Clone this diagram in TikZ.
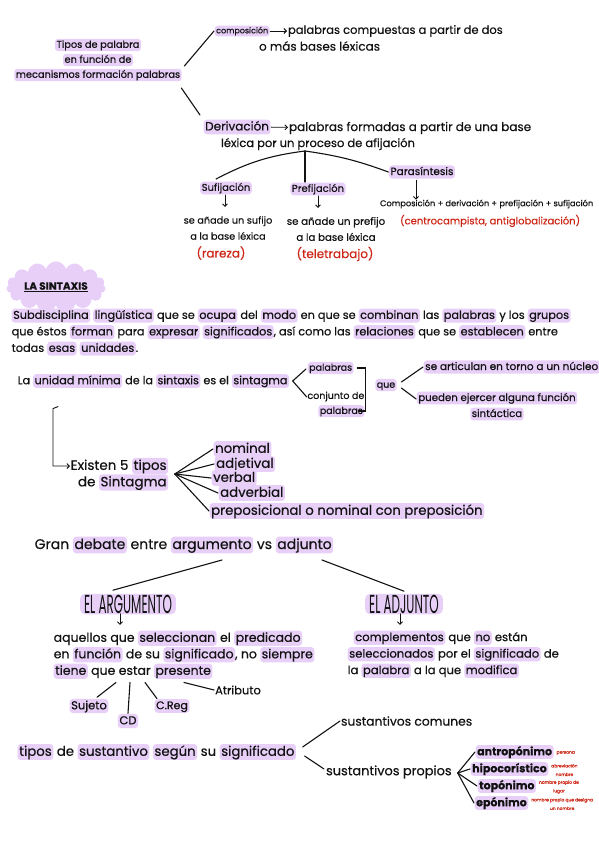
\documentclass[tikz,border=0pt]{standalone}
\usepackage{fontspec}
\setmainfont{Poppins}[FakeBold=0.5]
\newfontfamily\condfont[FakeStretch=0.46]{Poppins}
\usepackage{tikz}
\usetikzlibrary{calc,shapes.symbols,arrows.meta}
\definecolor{hl}{RGB}{232,207,248}
\definecolor{ink}{RGB}{18,18,18}
\definecolor{redink}{RGB}{205,38,22}
\newcommand{\hlword}[1]{\tikz[baseline]\node[anchor=base, fill=hl, rounded corners=3pt, inner xsep=1.5pt, inner ysep=1.2pt, text height=1.45ex, text depth=.4ex]{#1};}

\begin{document}
\begin{tikzpicture}[x=1pt, y=-1pt, line width=1.1pt, line cap=round, ink,
txt/.style={font=\fontsize{12}{15}\selectfont, inner sep=0.5pt},
sm/.style={font=\fontsize{8}{12}\selectfont, inner sep=0.5pt},
ex/.style={font=\fontsize{12}{14}\selectfont, text=redink, inner sep=0.5pt},
note/.style={font=\fontsize{4.4}{8.6}\selectfont, text=redink, align=center, inner sep=0.3pt},
head/.style={font=\condfont\fontsize{26}{28}\selectfont, fill=hl, rounded corners=5pt, inner xsep=4pt, inner ysep=1pt},
arr/.style={->, >={Straight Barb[length=2.5pt,width=5pt]}, line width=0.9pt}]
\useasboundingbox (0,0) rectangle (599,848);

% tipos de palabra
\node[txt, font=\fontsize{9.8}{15}\selectfont, align=center] (tipos) at (98,60) {\hlword{Tipos de palabra}\\ \hlword{en función de}\\ \hlword{mecanismos formación palabras}};
\node[sm, anchor=west] (comp) at (214,31) {\hlword{composición}};
\node[txt, font=\fontsize{11.5}{15}\selectfont, anchor=west] (compdef) at (287,31) {palabras compuestas a partir de dos};
\node[txt, anchor=west] (compdef2) at (258,46) {o más bases léxicas};
\draw[arr] (comp) -- (compdef);
\draw ($(tipos.east)+(2,6)$) -- (comp.west);
\node[txt, anchor=west] (deriv) at (203,127) {\hlword{Derivación}};
\node[txt, anchor=west] (derivdef) at (288,128) {palabras formadas a partir de una base};
\node[txt, font=\fontsize{11.5}{15}\selectfont, anchor=west] (derivdef2) at (220,144) {léxica por un proceso de afijación};
\draw[arr] (deriv) -- (derivdef);
\draw ($(tipos.east)+(-1,28)$) -- ($(deriv.north west)+(-3,-4)$);

% afijacion
\coordinate (afij) at (305,151);
\node[sm, font=\fontsize{10}{12}\selectfont] (sufij) at (226,188) {\hlword{Sufijación}};
\node[sm, font=\fontsize{10}{12}\selectfont] (prefij) at (318,189) {\hlword{Prefijación}};
\node[sm, font=\fontsize{10.5}{12}\selectfont] (paras) at (422,172) {\hlword{Parasíntesis}};
\draw (afij) to[bend right=10] ($(sufij.north)+(-10,-2)$);
\draw (afij) -- (afij |- prefij.north);
\draw (afij) to[bend left=6] (paras.west);
\node[txt, font=\fontsize{9.7}{16}\selectfont, align=center] (sufdef) at (228,228) {se añade un sufijo\\a la base léxica};
\node[ex] (sufex) at (221,253) {(rareza)};
\node[txt, font=\fontsize{10.2}{16}\selectfont, align=center] (prefdef) at (336,229) {se añade un prefijo\\a la base léxica};
\node[ex] (prefex) at (335,254) {(teletrabajo)};
\draw[arr] ($(sufij.south)+(-1,0)$) -- ++(0,12);
\draw[arr] ($(prefij.south)+(0,0)$) -- ++(0,12);
\node[sm, font=\fontsize{8.3}{10}\selectfont, anchor=west] (parasdef) at (379,204) {Composición + derivación + prefijación + sufijación};
\node[ex, font=\fontsize{10}{12}\selectfont, anchor=west] (parasex) at (399,221) {(centrocampista, antiglobalización)};
\draw[arr] ($(paras.south)+(-6,1)$) -- ($(parasdef.north west)+(37,1)$);

% la sintaxis
\node[cloud, cloud puffs=15, aspect=2.6, fill=hl, inner xsep=2pt, inner ysep=5pt, font=\bfseries\fontsize{10.5}{12}\selectfont] (sintaxis) at (56,287) {\underline{LA SINTAXIS}};
\node[txt, anchor=north west, align=left, font=\fontsize{11.3}{16.5}\selectfont] (defsint) at (11,308) {\hlword{Subdisciplina} \hlword{lingüística} que se \hlword{ocupa} del \hlword{modo} en que se \hlword{combinan} las \hlword{palabras} y los \hlword{grupos}\\ que éstos \hlword{forman} para \hlword{expresar} \hlword{significados}, así como las \hlword{relaciones} que se \hlword{establecen} entre\\ todas \hlword{esas} \hlword{unidades}.};

\node[txt, font=\fontsize{11.2}{15}\selectfont, anchor=west] (unidad) at (17,381) {La \hlword{unidad mínima} de la \hlword{sintaxis} es el \hlword{sintagma}};
\node[sm, font=\fontsize{9.5}{12}\selectfont, anchor=west] (pal) at (307,368) {\hlword{palabras}};
\node[sm, font=\fontsize{9.5}{15}\selectfont, align=right, anchor=north east] (conj) at (365,391) {conjunto de\\ \hlword{palabras}};
\draw ($(pal.west)+(-1,1)$) -- ($(unidad.east)+(3,0)$) -- ($(conj.north west)+(0,6)$);
\draw ($(pal.east)+(3,0)$) -| ($(pal.east)+(11,43)$) -- ++(-7,0);
\node[sm, font=\fontsize{9.5}{12}\selectfont] (que) at (386,385) {\hlword{que}};
\node[sm, font=\fontsize{10.5}{12}\selectfont, anchor=west] (art) at (423,367) {\hlword{se articulan en torno a un núcleo}};
\node[sm, font=\fontsize{10.2}{16}\selectfont, align=center, anchor=north] (pueden) at (497,391) {\hlword{pueden ejercer alguna función}\\ \hlword{sintáctica}};
\draw (art.west) -- ($(que.east)+(4,-3)$);
\draw ($(que.east)+(4,3)$) -- ($(pueden.north west)+(0,8)$);

% tipos de sintagma
\node[txt, font=\fontsize{13.5}{15}\selectfont, anchor=west] (existen) at (70,466) {Existen 5 \hlword{tipos}};
\node[txt, font=\fontsize{13.5}{15}\selectfont, anchor=north east] (desint) at ($(existen.south east)+(0,-1)$) {de \hlword{Sintagma}};
\draw[arr] ($(unidad.south west)+(41,18)$) -- ++(-5,2) |- (existen.west);
\coordinate (fan) at ($(existen.east)+(6,8)$);
\foreach \id/\x/\y/\lbl in {nom/213/449/nominal, adj/214/464/adjetival, verb/211/478/verbal, adv/218/493/adverbial, prep/209/511/preposicional o nominal con preposición} {
  \node[txt, font=\fontsize{13.3}{14}\selectfont, anchor=west] (\id) at (\x,\y) {\hlword{\lbl}};
  \draw (fan) -- (\id.west);
}

% argumento vs adjunto
\node[txt, anchor=west, font=\fontsize{14}{16}\selectfont] (debate) at (34,545) {Gran \hlword{debate} entre \hlword{argumento} vs \hlword{adjunto}};
\coordinate (argtop) at ($(debate.south west)+(188,6)$);
\coordinate (adjtop) at ($(debate.south west)+(288,6)$);
\node[head] (elarg) at (128,604) {EL ARGUMENTO};
\node[head] (eladj) at (404,604) {EL ADJUNTO};
\draw (argtop) -- ($(elarg.north)+(-15,-3)$);
\draw (adjtop) -- ($(eladj.north)+(0,-2)$);
\draw[arr] ($(elarg.south)+(-8,-1)$) -- ++(0,11);
\draw[arr] ($(eladj.south)+(-4,-1)$) -- ++(0,11);
\node[txt, anchor=north west, align=left, font=\fontsize{12.5}{16.5}\selectfont] (argdef) at (53,630) {aquellos que \hlword{seleccionan} el \hlword{predicado}\\ en \hlword{función} de su \hlword{significado}, no \hlword{siempre}\\ \hlword{tiene} que estar \hlword{presente}};
\node[txt, anchor=north west, align=left, font=\fontsize{11.6}{16.5}\selectfont] (adjdef) at (347,630) {\hspace{6pt}\hlword{complementos} que \hlword{no} están\\ \hlword{seleccionados} por el \hlword{significado} de\\ la \hlword{palabra} a la que \hlword{modifica}};
\node[sm, font=\fontsize{11.5}{12}\selectfont] (sujeto) at (89,706) {\hlword{Sujeto}};
\node[sm, font=\fontsize{11.5}{12}\selectfont] (cd) at (128,721) {\hlword{CD}};
\node[sm, font=\fontsize{11}{12}\selectfont] (creg) at (172,706) {\hlword{C.Reg}};
\node[sm, font=\fontsize{11.5}{12}\selectfont] (atrib) at (238,690) {Atributo};
\draw ($(argdef.south west)+(63,3)$) -- ($(sujeto.north)+(8,-1)$);
\draw ($(argdef.south west)+(77,3)$) -- (cd.north);
\draw ($(argdef.south west)+(92,3)$) -- ($(creg.north west)+(3,0)$);
\draw ($(argdef.south west)+(131,3)$) -- (atrib.west);

% tipos de sustantivo
\node[txt, anchor=west, font=\fontsize{13.3}{14}\selectfont] (sust) at (17,752) {\hlword{tipos} de \hlword{sustantivo} \hlword{según} su \hlword{significado}};
\node[txt, anchor=west, font=\fontsize{12.3}{14}\selectfont] (comunes) at (340,721) {sustantivos comunes};
\node[txt, anchor=west, font=\fontsize{12.9}{14}\selectfont] (propios) at (325,772) {sustantivos propios};
\draw ($(sust.east)+(6,-5)$) -- (comunes.west);
\draw ($(sust.east)+(8,4)$) -- ($(propios.west)+(-1,-3)$);
\coordinate (prop) at ($(propios.east)+(5,1)$);
\foreach \id/\x/\y/\lbl/\nt in {antrop/475/752/antropónimo/persona, hipo/470/769/hipocorístico/{abreviación\\nombre}, topo/477/786/topónimo/{nombre propio de\\lugar}, epo/474/803/epónimo/{nombre propio que designa\\un nombre}} {
  \node[txt, font=\bfseries\fontsize{11}{13}\selectfont, anchor=west] (\id) at (\x,\y) {\hlword{\lbl}};
  \draw (prop) -- (\id.west);
  \node[note, anchor=west] (\id note) at ($(\id.east)+(1.5,1)$) {\nt};
}
\end{tikzpicture}
\end{document}
